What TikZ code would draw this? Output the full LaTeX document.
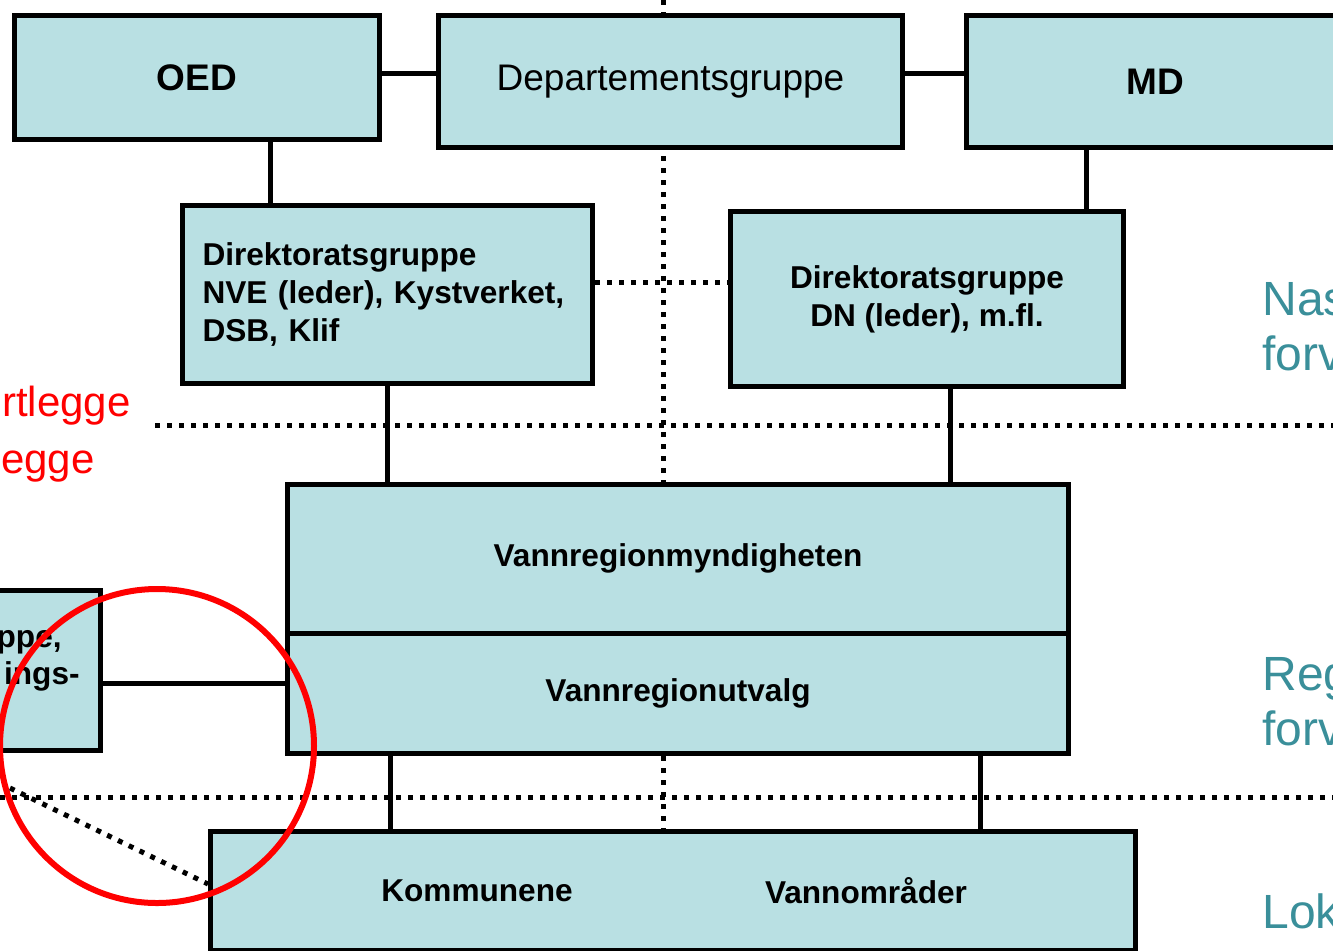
\documentclass[tikz,border=0pt]{standalone}
\usepackage{fontspec}
\setmainfont{Liberation Sans}
\definecolor{boksblaa}{RGB}{185,224,227}
\definecolor{nivafarge}{RGB}{58,143,154}

\begin{document}
\begin{tikzpicture}[x=0.5pt, y=-0.5pt,
    boks/.style={draw, line width=2.5pt, fill=boksblaa, inner sep=0pt, align=center, font=\fontsize{15.8}{19}\selectfont\bfseries},
    topp/.style={font=\fontsize{18.5}{22}\selectfont},
    toppfet/.style={font=\fontsize{18.5}{22}\selectfont\bfseries},
    linje/.style={line width=2.5pt},
    prikk/.style={line width=2.5pt, dash pattern=on 2.5pt off 3.5pt},
    rod/.style={anchor=base east, inner sep=0pt, text=red, font=\fontsize{21}{25}\selectfont},
    niva/.style={anchor=base west, inner sep=0pt, text=nivafarge, font=\fontsize{24}{28}\selectfont}]
    \useasboundingbox (0,0) rectangle (1333,950);
    \draw [prikk] (663,0) -- (663,832);
    \draw [prikk] (155,425) -- (1340,425);
    \draw [prikk] (0,797) -- (1340,797);

    \node [boks, toppfet, minimum width=182.5pt, minimum height=62pt] (oed) at (197,77.5) {OED};
    \node [boks, topp, minimum width=232pt, minimum height=66pt] (dep) at (670.5,81.5) {Departementsgruppe};
    \node [boks, toppfet, minimum width=188.5pt, minimum height=66pt] (md) at (1155,81.5) {MD};
    \node [boks, align=left, text width=185pt, inner xsep=10pt, minimum height=89pt] (dir1) at (387.5,294.5) {Direktoratsgruppe\\NVE (leder), Kystverket,\\DSB, Klif};
    \node [boks, minimum width=196.5pt, minimum height=87.5pt] (dir2) at (927,299) {Direktoratsgruppe\\DN (leder), m.fl.};
    \node [boks, minimum width=390.5pt, minimum height=74.25pt] (vrm) at (678,558.75) {Vannregionmyndigheten};
    \node [boks, minimum width=390.5pt, minimum height=60.25pt] (vru) at (678,693.25) {Vannregionutvalg};
    \node [boks, minimum width=150pt, minimum height=80pt] (ref) at (-50,670.5) {};
    \node [anchor=base east, inner sep=0pt, font=\fontsize{15.8}{19}\selectfont\bfseries] (ref1) at (62,647) {ppe,};
    \node [anchor=base east, inner sep=0pt, font=\fontsize{15.8}{19}\selectfont\bfseries] (ref2) at (80,684) {ings-};
    \node [boks, minimum width=462.5pt, minimum height=59.5pt] (bunn) at (673,891) {};
    \node [font=\fontsize{15.8}{19}\selectfont\bfseries] (komm) at (477,891) {Kommunene};
    \node [font=\fontsize{15.8}{19}\selectfont\bfseries] (vomr) at (866,891) {Vannområder};

    \draw [linje] ([yshift=2.25pt]oed.east) -- ([yshift=2.25pt]oed.east -| dep.west);
    \draw [linje] ([yshift=4.25pt]dep.east) -- ([yshift=4.25pt]dep.east -| md.west);
    \draw [linje] ([xshift=-58.75pt]dir1.north) -- ([xshift=-58.75pt]dir1.north |- oed.south);
    \draw [linje] ([xshift=79.5pt]dir2.north) -- ([xshift=79.5pt]dir2.north |- md.south);
    \draw [prikk] ([yshift=6pt]dir1.east) -- ([yshift=6pt]dir1.east -| dir2.west);
    \draw [linje] (dir1.south) -- (dir1.south |- vrm.north);
    \draw [linje] ([xshift=11.5pt]dir2.south) -- ([xshift=11.5pt]dir2.south |- vrm.north);
    \draw [linje] ([yshift=5pt]vru.west) -- ([yshift=5pt]vru.west -| ref.east);
    \draw [linje] ([xshift=-144pt]vru.south) -- ([xshift=-144pt]vru.south |- bunn.north);
    \draw [linje] ([xshift=151pt]vru.south) -- ([xshift=151pt]vru.south |- bunn.north);
    \coordinate (skraa) at (10,788);
    \draw [prikk] (skraa) -- ([yshift=3.5pt]bunn.west);

    \node [rod] (kart) at (131,416.5) {rtlegge};
    \node [rod] (legge) at (95,473.5) {egge};
    \node [niva] (nas1) at (1262,315) {Nasjonal};
    \node [niva] (nas2) at (1262,370.5) {forvaltning};
    \node [niva] (reg1) at (1262,690) {Regional};
    \node [niva] (reg2) at (1262,745.5) {forvaltning};
    \node [niva] (lok) at (1262,928.5) {Lokal};

    \draw [red, line width=3pt] (157,746) circle (78.5pt);
\end{tikzpicture}
\end{document}
